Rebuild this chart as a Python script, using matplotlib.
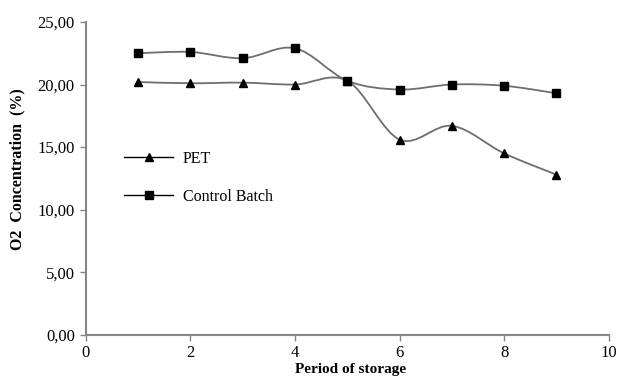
import numpy as np
import matplotlib.pyplot as plt
from matplotlib.path import Path
from matplotlib.patches import PathPatch
from matplotlib.lines import Line2D
from matplotlib.ticker import FuncFormatter

plt.rcParams['font.family'] = ['Liberation Serif', 'DejaVu Serif']

days = [1, 2, 3, 4, 5, 6, 7, 8, 9]
pet = [20.2, 20.1, 20.15, 20.0, 20.3, 15.6, 16.7, 14.5, 12.8]
control = [22.5, 22.6, 22.1, 22.9, 20.3, 19.6, 20.0, 19.9, 19.3]


def smooth_path(x, y, t=1/6):
    # Excel-like smoothed line: Catmull-Rom converted to cubic Bezier
    x = np.asarray(x, float)
    y = np.asarray(y, float)
    verts = [(x[0], y[0])]
    codes = [Path.MOVETO]
    n = len(x)
    for i in range(n - 1):
        p0 = (x[max(i - 1, 0)], y[max(i - 1, 0)])
        p1 = (x[i], y[i])
        p2 = (x[i + 1], y[i + 1])
        p3 = (x[min(i + 2, n - 1)], y[min(i + 2, n - 1)])
        c1 = (p1[0] + (p2[0] - p0[0]) * t, p1[1] + (p2[1] - p0[1]) * t)
        c2 = (p2[0] - (p3[0] - p1[0]) * t, p2[1] - (p3[1] - p1[1]) * t)
        verts += [c1, c2, p2]
        codes += [Path.CURVE4] * 3
    return Path(verts, codes)


fig = plt.figure(figsize=(6.18, 3.78), dpi=100)
ax = fig.add_axes([0.139, 0.114, 0.846, 0.828])

line_col = '#6e6e6e'
for vals, mk, ms in [(pet, '^', 5.5), (control, 's', 6)]:
    ax.add_patch(PathPatch(smooth_path(days, vals), facecolor='none',
                           edgecolor=line_col, lw=1.3, zorder=2))
    ax.plot(days, vals, linestyle='none', marker=mk, color='black',
            markersize=ms, zorder=3)

ax.set_xlim(0, 10)
ax.set_ylim(0, 25)
ax.set_xticks([0, 2, 4, 6, 8, 10])
ax.set_yticks([0, 5, 10, 15, 20, 25])
ax.yaxis.set_major_formatter(FuncFormatter(lambda v, p: f'{v:.2f}'.replace('.', ',')))

for s in ['top', 'right']:
    ax.spines[s].set_visible(False)
for s in ['left', 'bottom']:
    ax.spines[s].set_color('#868686')
    ax.spines[s].set_linewidth(1.5)
ax.tick_params(axis='both', direction='out', length=4, width=1, color='#868686',
               labelsize=12, pad=4)
ax.tick_params(axis='x', pad=3)

ax.set_xlabel('Period of storage', fontsize=11, fontweight='bold')
ax.xaxis.set_label_coords(0.506, -0.09)
ax.set_ylabel('O2  Concentration  (%)', fontsize=11.5, fontweight='bold')
ax.yaxis.set_label_coords(-0.115, 0.53)

handles = [
    Line2D([], [], color='black', lw=1, marker='^', markersize=5.5, label='PET'),
    Line2D([], [], color='black', lw=1, marker='s', markersize=6, label='Control Batch'),
]
ax.legend(handles=handles, loc='upper left', bbox_to_anchor=(0.045, 0.635),
          frameon=False, fontsize=11.5, handlelength=3.1, handletextpad=0.6,
          labelspacing=1.4)

fig.savefig('out.png', dpi=100)
